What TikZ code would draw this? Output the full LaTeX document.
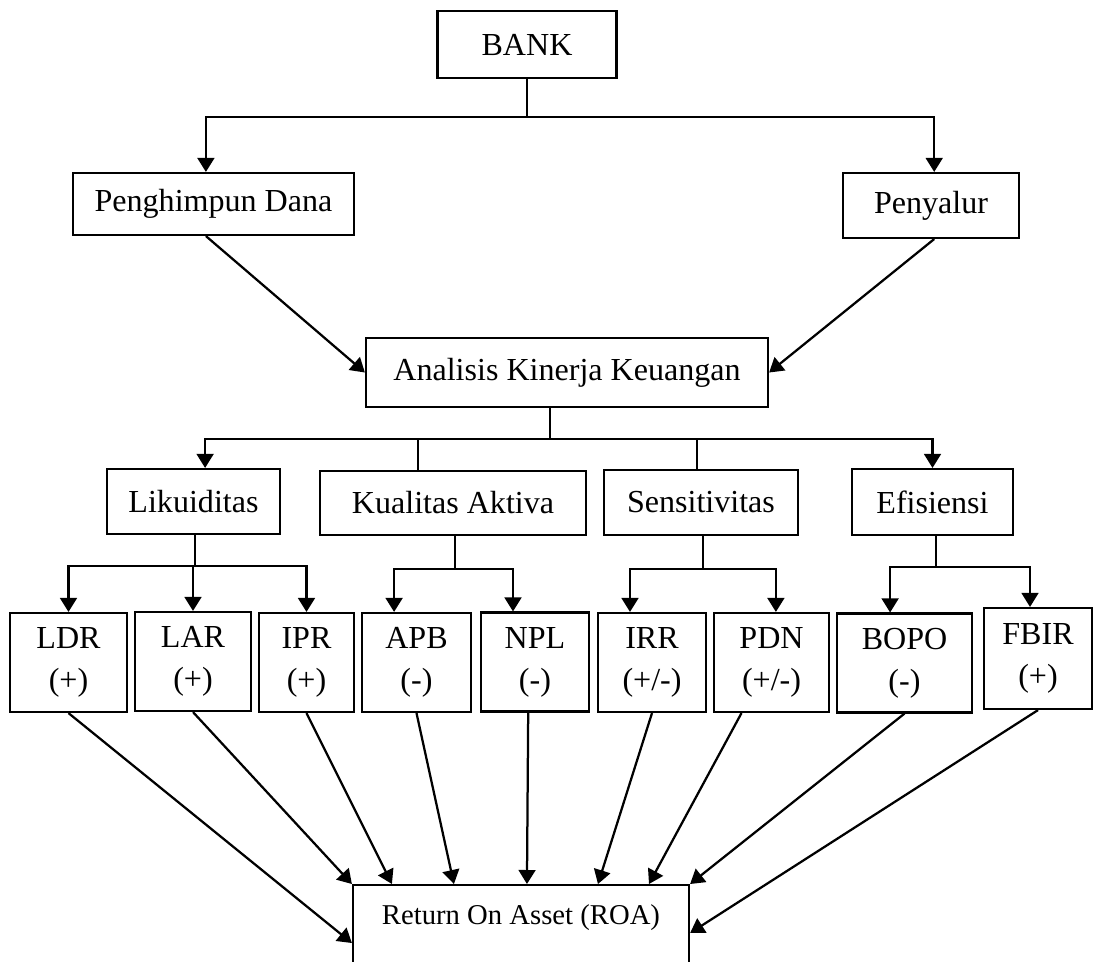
\documentclass[tikz,border=0pt]{standalone}
\usepackage{fontspec}
\setmainfont{Liberation Serif}
\usetikzlibrary{arrows.meta}
\begin{document}
\begin{tikzpicture}[x=0.025cm, y=-0.025cm, line width=1.6pt,
    >={Triangle[length=0.35cm,width=0.42cm]},
    box/.style={draw, rectangle, line width=1.5pt, inner sep=0pt, align=center, font=\fontsize{22.8}{30}\selectfont},
    ratio/.style={box, minimum height=2.475cm}]
\useasboundingbox (0,0) rectangle (1096,961);

% Bank
\node[box, minimum width=4.475cm, minimum height=1.675cm] (bank) at (527,44.5) {BANK};

% Fungsi bank
\node[box, minimum width=7.025cm, minimum height=1.55cm] (dana) at (213.5,204) {Penghimpun Dana};
\node[box, minimum width=4.4cm, minimum height=1.625cm] (salur) at (931,205.5) {Penyalur};

% Analisis
\node[box, minimum width=10.05cm, minimum height=1.725cm] (analisis) at (567,372.5) {Analisis Kinerja Keuangan};

% Aspek kinerja
\node[box, minimum width=4.325cm, minimum height=1.625cm] (likuid) at (193.5,501.5) {Likuiditas};
\node[box, minimum width=6.65cm, minimum height=1.6cm] (kualitas) at (453,503) {Kualitas Aktiva};
\node[box, minimum width=4.85cm, minimum height=1.625cm] (sensi) at (701,502.5) {Sensitivitas};
\node[box, minimum width=4.025cm, minimum height=1.65cm] (efis) at (932.5,502) {Efisiensi};

% Rasio
\node[ratio, minimum width=2.925cm] (ldr) at (68.5,662.5) {LDR\\(+)};
\node[ratio, minimum width=2.9cm] (lar) at (193,661.5) {LAR\\(+)};
\node[ratio, minimum width=2.375cm] (ipr) at (306.5,662.5) {IPR\\(+)};
\node[ratio, minimum width=2.725cm] (apb) at (416.5,662.5) {APB\\(-)};
\node[ratio, minimum width=2.7cm] (npl) at (535,662) {NPL\\(-)};
\node[ratio, minimum width=2.7cm] (irr) at (652,662.5) {IRR\\(+/-)};
\node[ratio, minimum width=2.875cm] (pdn) at (771.5,662.5) {PDN\\(+/-)};
\node[ratio, minimum width=3.375cm] (bopo) at (904.5,663) {BOPO\\(-)};
\node[ratio, minimum width=2.7cm, minimum height=2.525cm] (fbir) at (1038,658.5) {FBIR\\(+)};

% ROA
\node[box, anchor=north, minimum width=8.4cm, inner ysep=0pt, text height=0.975cm, text depth=2.5cm,
    font=\fontsize{20.4}{25}\selectfont] (roa) at (521,884) {Return On Asset (ROA)};

% Bank ke fungsi
\coordinate (jbank) at (527,117);
\draw (bank) -- (jbank);
\draw[->] (jbank) -| ([xshift=-0.19cm]dana.north);
\draw[->] (jbank) -| ([xshift=0.08cm]salur.north);
\draw[->] ([xshift=-0.19cm]dana.south) -- (analisis.west);
\draw[->] ([xshift=0.08cm]salur.south) -- (analisis.east);

% Analisis ke aspek
\coordinate (jana) at (550,439);
\draw (analisis.south -| jana) -- (jana);
\draw[->] (jana) -| ([xshift=0.29cm]likuid.north);
\draw (jana) -| ([xshift=-0.875cm]kualitas.north);
\draw (jana) -| ([xshift=-0.1cm]sensi.north);
\draw[->] (jana) -| (efis.north);

% Aspek ke rasio
\coordinate (jlik) at (195,566);
\draw (likuid.south -| jlik) -- (jlik);
\draw[->] (jlik) -| (ldr.north);
\draw[->] (jlik) -| (lar.north);
\draw[->] (jlik) -| (ipr.north);
\coordinate (jkua) at (455,569);
\draw (kualitas.south -| jkua) -- (jkua);
\draw[->] (jkua) -| ([xshift=-0.56cm]apb.north);
\draw[->] (jkua) -| ([xshift=-0.55cm]npl.north);
\coordinate (jsen) at (703,569);
\draw (sensi.south -| jsen) -- (jsen);
\draw[->] (jsen) -| ([xshift=-0.55cm]irr.north);
\draw[->] (jsen) -| ([xshift=0.11cm]pdn.north);
\coordinate (jefi) at (936,567);
\draw (efis.south -| jefi) -- (jefi);
\draw[->] (jefi) -| ([xshift=-0.36cm]bopo.north);
\draw[->] (jefi) -| ([xshift=-0.2cm]fbir.north);

% Rasio ke ROA
\draw[->] (ldr.south) -- ([yshift=-1.475cm]roa.north west);
\draw[->] (lar.south) -- (roa.north west);
\draw[->] (ipr.south) -- ([xshift=1cm]roa.north west);
\draw[->] (apb.south) -- ([xshift=2.55cm]roa.north west);
\draw[->] ([xshift=-0.17cm]npl.south) -- ([xshift=4.375cm]roa.north west);
\draw[->] (irr.south) -- ([xshift=6.15cm]roa.north west);
\draw[->] ([xshift=-0.75cm]pdn.south) -- ([xshift=7.425cm]roa.north west);
\draw[->] (bopo.south) -- (roa.north east);
\draw[->] (fbir.south) -- ([yshift=-1.225cm]roa.north east);
\end{tikzpicture}
\end{document}
